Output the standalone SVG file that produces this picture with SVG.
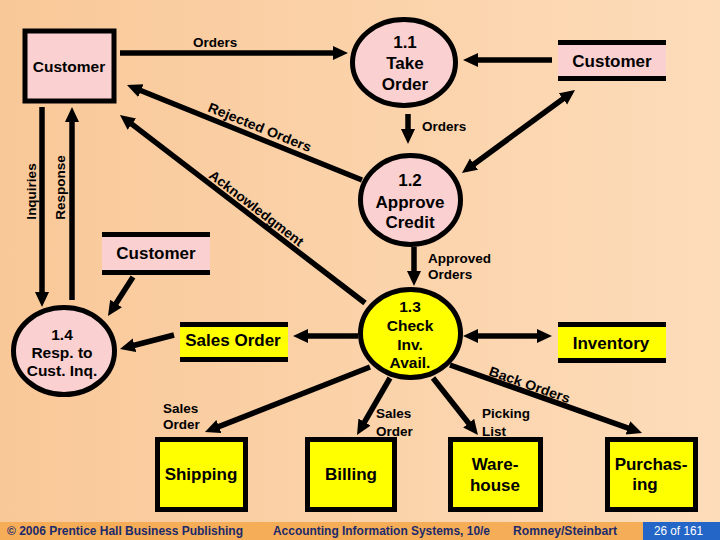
<svg xmlns="http://www.w3.org/2000/svg" width="720" height="540" viewBox="0 0 720 540">
<defs>
<linearGradient id="bg" x1="0" y1="0" x2="1" y2="0">
<stop offset="0" stop-color="#F9C898"/>
<stop offset="1" stop-color="#FDDCBA"/>
</linearGradient>
<marker id="ah" markerUnits="userSpaceOnUse" markerWidth="16" markerHeight="16" refX="7" refY="7" orient="auto-start-reverse">
<path d="M0,0 L15,7 L0,14 z" fill="#000"/>
</marker>
<style>
text{font-family:"Liberation Sans",Arial,sans-serif;fill:#000;font-weight:bold}
.n{font-size:17px;text-anchor:middle}
.p{font-size:15.5px;text-anchor:middle}
.l{font-size:13.5px}
.c line{stroke:#000;stroke-width:5.5;marker-end:url(#ah)}
.c line.d{marker-start:url(#ah)}
.pink{fill:#FBD0D0}
.yel{fill:#FFFF00}
.bd{stroke:#000;stroke-width:5}
.bar{stroke:#000;stroke-width:5}
.f{font-size:12px;fill:#1B2A6B}
</style>
</defs>
<rect x="0" y="0" width="720" height="540" fill="url(#bg)"/>

<g id="connectors" class="c">
<line x1="120" y1="53" x2="340" y2="53"/>
<line x1="552" y1="60" x2="471" y2="60"/>
<line x1="408" y1="114" x2="408" y2="136"/>
<line class="d" x1="568.6" y1="94.7" x2="468.4" y2="168.3"/>
<line x1="362" y1="180" x2="134.4" y2="88"/>
<line x1="365" y1="303" x2="126.3" y2="119.9"/>
<line x1="414" y1="247" x2="414" y2="278"/>
<line x1="358" y1="336" x2="301" y2="336"/>
<line class="d" x1="471" y1="336" x2="544" y2="336"/>
<line x1="174" y1="335" x2="127.7" y2="347"/>
<line x1="133" y1="277" x2="112.3" y2="309.3"/>
<line x1="42" y1="107" x2="42" y2="299"/>
<line x1="72" y1="300" x2="72" y2="115"/>
<line x1="370" y1="367" x2="212.4" y2="429.1"/>
<line x1="390" y1="378" x2="361" y2="428.1"/>
<line x1="433" y1="378" x2="473" y2="428.7"/>
<line x1="450" y1="365" x2="634.5" y2="430.3"/>
</g>

<g id="connector-labels">
<text class="l" x="193" y="47">Orders</text>
<text class="l" x="422" y="131">Orders</text>
<text class="l" x="428" y="263">Approved</text>
<text class="l" x="428" y="279">Orders</text>
<text class="l" x="163" y="413">Sales</text>
<text class="l" x="163" y="429">Order</text>
<text class="l" x="376" y="418">Sales</text>
<text class="l" x="376" y="436">Order</text>
<text class="l" x="482" y="418">Picking</text>
<text class="l" x="482" y="436">List</text>
<text class="l" transform="translate(207,111) rotate(22)" font-size="14.5" textLength="110" lengthAdjust="spacingAndGlyphs">Rejected Orders</text>
<text class="l" transform="translate(208,177) rotate(37.5)" font-size="14" textLength="115" lengthAdjust="spacingAndGlyphs">Acknowledgment</text>
<text class="l" transform="translate(488,375) rotate(19.5)" font-size="14" textLength="85" lengthAdjust="spacingAndGlyphs">Back Orders</text>
<text class="l" transform="translate(36,191.5) rotate(-90)" text-anchor="middle">Inquiries</text>
<text class="l" transform="translate(65,187.5) rotate(-90)" text-anchor="middle">Response</text>
</g>

<g id="customer-entity">
<rect x="25" y="31" width="89" height="70" class="pink bd"/>
<text x="69" y="72" font-size="15.5" text-anchor="middle">Customer</text>
</g>

<g id="p1-1">
<ellipse cx="404" cy="62.5" rx="51.5" ry="43" class="pink bd"/>
<text class="n" x="405" y="48">1.1</text>
<text class="n" x="405" y="69">Take</text>
<text class="n" x="405" y="90">Order</text>
</g>

<g id="customer-store-top">
<rect x="558" y="44" width="108" height="34" class="pink"/>
<line x1="558" y1="42.5" x2="666" y2="42.5" class="bar"/>
<line x1="558" y1="78.5" x2="666" y2="78.5" class="bar"/>
<text class="n" x="612" y="67">Customer</text>
</g>

<g id="p1-2">
<ellipse cx="410.5" cy="200" rx="50" ry="44.5" class="pink bd"/>
<text class="n" x="410" y="186">1.2</text>
<text class="n" x="410" y="208">Approve</text>
<text class="n" x="410" y="228">Credit</text>
</g>

<g id="customer-store-mid">
<rect x="102" y="235" width="108" height="38" class="pink"/>
<line x1="102" y1="234.5" x2="210" y2="234.5" class="bar"/>
<line x1="102" y1="272.5" x2="210" y2="272.5" class="bar"/>
<text class="n" x="156" y="259">Customer</text>
</g>

<g id="p1-3">
<ellipse cx="410.5" cy="333.5" rx="50" ry="44" class="yel bd"/>
<text class="p" x="410" y="312">1.3</text>
<text class="p" x="410" y="331">Check</text>
<text class="p" x="410" y="350">Inv.</text>
<text class="p" x="410" y="368">Avail.</text>
</g>

<g id="sales-order-store">
<rect x="180" y="325" width="108" height="35" class="yel"/>
<line x1="180" y1="324.5" x2="288" y2="324.5" class="bar"/>
<line x1="180" y1="359.5" x2="288" y2="359.5" class="bar"/>
<text class="n" x="233" y="346">Sales Order</text>
</g>

<g id="inventory-store">
<rect x="558" y="325" width="108" height="36" class="yel"/>
<line x1="558" y1="324.5" x2="666" y2="324.5" class="bar"/>
<line x1="558" y1="360.5" x2="666" y2="360.5" class="bar"/>
<text class="n" x="611" y="349">Inventory</text>
</g>

<g id="p1-4">
<ellipse cx="64" cy="351" rx="50.5" ry="43.5" class="pink bd"/>
<text class="p" x="62" y="340">1.4</text>
<text class="p" x="62" y="358">Resp. to</text>
<text class="p" x="62" y="376">Cust. Inq.</text>
</g>

<g id="shipping">
<rect x="157.5" y="439.5" width="88" height="70" class="yel bd"/>
<text class="n" x="201" y="480">Shipping</text>
</g>

<g id="billing">
<rect x="307.5" y="439.5" width="87" height="70" class="yel bd"/>
<text class="n" x="351" y="480">Billing</text>
</g>

<g id="warehouse">
<rect x="450.5" y="439.5" width="90" height="70" class="yel bd"/>
<text class="n" x="495" y="470">Ware-</text>
<text class="n" x="495" y="491">house</text>
</g>

<g id="purchasing">
<rect x="607.5" y="439.5" width="88" height="70" class="yel bd"/>
<text class="n" x="651" y="470">Purchas-</text>
<text class="n" x="645" y="490">ing</text>
</g>

<g id="footer">
<rect x="0" y="522" width="720" height="18" fill="#F6AD57"/>
<rect x="643" y="522" width="77" height="18" fill="#2466C8"/>
<text class="f" x="7" y="535" textLength="236" lengthAdjust="spacingAndGlyphs">© 2006 Prentice Hall Business Publishing</text>
<text class="f" x="273" y="535" textLength="217" lengthAdjust="spacingAndGlyphs">Accounting Information Systems, 10/e</text>
<text class="f" x="513" y="535" textLength="104" lengthAdjust="spacingAndGlyphs">Romney/Steinbart</text>
<text class="f" x="654" y="535" style="fill:#FFFFFF;font-weight:normal" textLength="49" lengthAdjust="spacingAndGlyphs">26 of 161</text>
</g>
</svg>
